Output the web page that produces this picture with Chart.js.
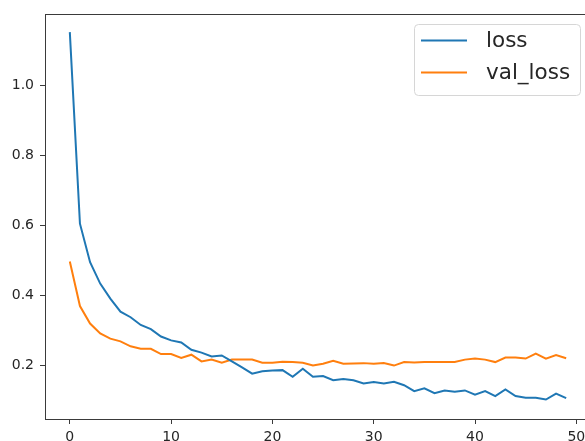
<!DOCTYPE html>
<html>
<head>
<meta charset="utf-8">
<script src="https://cdn.jsdelivr.net/npm/chart.js@4.4.1/dist/chart.umd.min.js"></script>
<style>
  body { margin: 0; background: #fff; }
  #wrap { width: 585px; height: 441px; overflow: hidden; position: relative; }
  #box { width: 592px; height: 441px; position: absolute; left: 0; top: 0; }
</style>
</head>
<body>
<div id="wrap"><div id="box"><canvas id="lossChart"></canvas></div></div>
<script>
const epochs = Array.from({ length: 50 }, (_, i) => i);

const lossValues = [
  1.152, 0.605, 0.495, 0.434, 0.391, 0.354, 0.338, 0.316, 0.304, 0.283,
  0.272, 0.266, 0.245, 0.237, 0.226, 0.229, 0.212, 0.195, 0.177, 0.184,
  0.186, 0.187, 0.168, 0.191, 0.168, 0.170, 0.158, 0.162, 0.158, 0.149,
  0.153, 0.149, 0.154, 0.144, 0.127, 0.135, 0.121, 0.129, 0.125, 0.129,
  0.117, 0.127, 0.113, 0.132, 0.113, 0.108, 0.108, 0.103, 0.120, 0.107
];

const valLossValues = [
  0.497, 0.370, 0.320, 0.292, 0.277, 0.269, 0.255, 0.248, 0.248, 0.233,
  0.233, 0.222, 0.231, 0.212, 0.217, 0.208, 0.217, 0.217, 0.217, 0.208,
  0.208, 0.211, 0.210, 0.208, 0.200, 0.205, 0.214, 0.205, 0.206, 0.207,
  0.205, 0.207, 0.200, 0.210, 0.209, 0.210, 0.210, 0.210, 0.210, 0.217,
  0.220, 0.217, 0.210, 0.223, 0.223, 0.220, 0.234, 0.220, 0.230, 0.221
];

const xTicks = [0, 10, 20, 30, 40, 50];
const yTicks = [0.2, 0.4, 0.6, 0.8, 1.0];

const seriesNames = ['loss', 'val_loss'];
const seriesColors = ['#1f77b4', '#ff7f0e'];

const axisColor = '#3a3a3a';
const tickFont = { family: 'DejaVu Sans', size: 14 };

// matplotlib-like frame and legend box
const framePlugin = {
  id: 'frame',
  afterDraw(chart) {
    const { ctx, chartArea: a } = chart;
    ctx.save();
    ctx.strokeStyle = axisColor;
    ctx.lineWidth = 1;
    ctx.strokeRect(Math.round(a.left) + 0.5, Math.round(a.top) + 0.5,
      Math.round(a.right - a.left), Math.round(a.bottom - a.top));

    const bx = 414, by = 24, bw = 166, bh = 71, r = 4;
    ctx.fillStyle = 'rgba(255,255,255,0.8)';
    ctx.strokeStyle = '#d6d6d6';
    ctx.beginPath();
    ctx.roundRect(bx + 0.5, by + 0.5, bw, bh, r);
    ctx.fill();
    ctx.stroke();

    ctx.font = '21.5px "DejaVu Sans"';
    ctx.textBaseline = 'middle';
    chart.data.datasets.forEach((ds, i) => {
      const y = 40.5 + i * 32;
      ctx.strokeStyle = ds.borderColor;
      ctx.lineWidth = 2;
      ctx.beginPath();
      ctx.moveTo(421, y);
      ctx.lineTo(467, y);
      ctx.stroke();
      ctx.fillStyle = '#262626';
      ctx.fillText(ds.label, 486, y + 1);
    });
    ctx.restore();
  }
};

const series = [lossValues, valLossValues];

new Chart(document.getElementById('lossChart'), {
  type: 'line',
  data: {
    datasets: series.map((vals, i) => ({
      label: seriesNames[i],
      data: epochs.map((e, j) => ({ x: e, y: vals[j] })),
      borderColor: seriesColors[i],
      backgroundColor: seriesColors[i],
      borderWidth: 2,
      pointRadius: 0,
      tension: 0,
      fill: false
    }))
  },
  options: {
    responsive: true,
    maintainAspectRatio: false,
    animation: false,
    layout: { padding: { top: 12, right: 1, left: 0, bottom: 0 } },
    plugins: {
      legend: { display: false },
      tooltip: { enabled: false }
    },
    scales: {
      x: {
        type: 'linear',
        min: -2.45,
        max: 51.45,
        afterBuildTicks: s => { s.ticks = xTicks.map(v => ({ value: v })); },
        afterFit: s => { s.height = 22; },
        ticks: { font: tickFont, color: '#262626', padding: 5, maxRotation: 0 },
        grid: { drawOnChartArea: false, tickLength: 5, color: axisColor },
        border: { color: axisColor }
      },
      y: {
        min: 0.0475,
        max: 1.2025,
        afterBuildTicks: s => { s.ticks = yTicks.map(v => ({ value: v })); },
        afterFit: s => { s.width = 45; },
        ticks: {
          font: tickFont,
          color: '#262626',
          padding: 6,
          callback: v => v.toFixed(1)
        },
        grid: { drawOnChartArea: false, tickLength: 5, color: axisColor },
        border: { color: axisColor }
      }
    }
  },
  plugins: [framePlugin]
});
</script>
</body>
</html>
